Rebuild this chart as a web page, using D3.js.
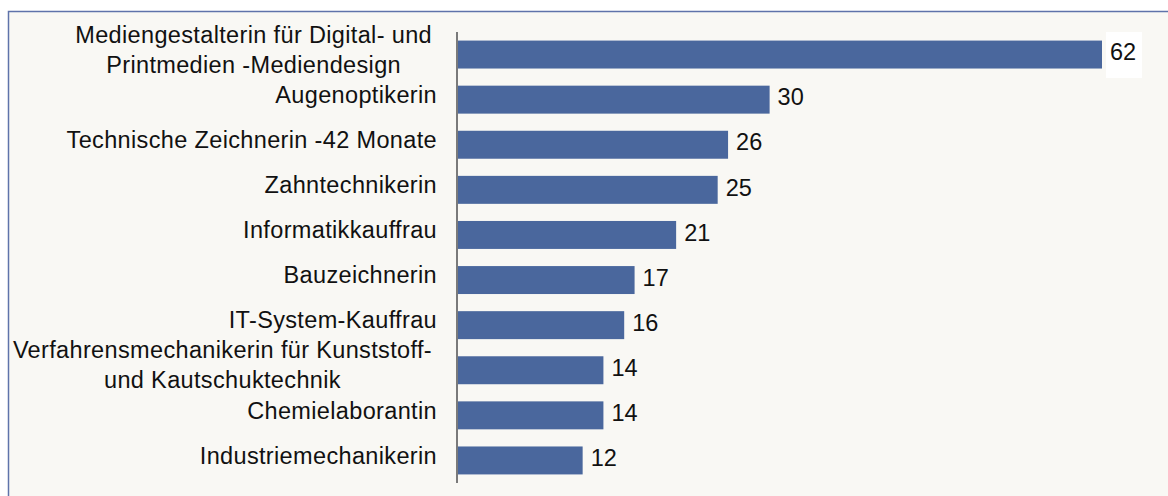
<!DOCTYPE html>
<html>
<head>
<meta charset="utf-8">
<script src="https://cdn.jsdelivr.net/npm/d3@7"></script>
<style>
  html, body { margin: 0; padding: 0; background: #ffffff; }
  svg { display: block; }
</style>
</head>
<body>
<div id="chart"></div>
<script>
// categories, each as list of label lines
const categories = [
  ["Mediengestalterin für Digital- und", "Printmedien -Mediendesign"],
  ["Augenoptikerin"],
  ["Technische Zeichnerin -42 Monate"],
  ["Zahntechnikerin"],
  ["Informatikkauffrau"],
  ["Bauzeichnerin"],
  ["IT-System-Kauffrau"],
  ["Verfahrensmechanikerin für Kunststoff-", "und Kautschuktechnik"],
  ["Chemielaborantin"],
  ["Industriemechanikerin"]
];
const values = [62, 30, 26, 25, 21, 17, 16, 14, 14, 12];

const width = 1168, height = 496;
const plot = { left: 458, right: 1102, top: 32, bottom: 483 };
const font = "'Liberation Sans', Arial, sans-serif";

const data = categories.map((c, i) => ({ key: i, lines: c, value: values[i] }));

const svg = d3.select("#chart").append("svg")
  .attr("width", width)
  .attr("height", height);

// chart area with border
svg.append("rect")
  .attr("x", 8.5).attr("y", 11.5)
  .attr("width", width + 10).attr("height", height)
  .attr("fill", "#f9f8f4")
  .attr("stroke", "#5f73aa")
  .attr("stroke-width", 1.5);

const x = d3.scaleLinear()
  .domain([0, d3.max(values)])
  .range([plot.left, plot.right]);

const y = d3.scaleBand()
  .domain(data.map(d => d.key))
  .range([plot.top, plot.bottom])
  .paddingInner(0.38)
  .paddingOuter(0.19);

svg.append("g")
  .selectAll("rect")
  .data(data)
  .join("rect")
  .attr("x", x(0))
  .attr("y", d => y(d.key))
  .attr("width", d => x(d.value) - x(0))
  .attr("height", y.bandwidth())
  .attr("fill", "#4a679d");

// vertical axis line
svg.append("line")
  .attr("x1", x(0) - 1).attr("x2", x(0) - 1)
  .attr("y1", plot.top).attr("y2", plot.bottom)
  .attr("stroke", "#7a7a7a")
  .attr("stroke-width", 2);

// category labels
const lineH = 30;
const labels = svg.append("g")
  .attr("font-family", font)
  .attr("font-size", 23.5)
  .attr("letter-spacing", 0.35)
  .attr("fill", "#111");

data.forEach(d => {
  const cy = y(d.key) + y.bandwidth() / 2 - 5;
  if (d.lines.length === 1) {
    labels.append("text")
      .attr("x", 437)
      .attr("y", cy)
      .attr("dy", "0.35em")
      .attr("text-anchor", "end")
      .text(d.lines[0]);
  } else {
    const texts = d.lines.map((t, j) => labels.append("text")
      .attr("y", cy + (j - (d.lines.length - 1) / 2) * lineH)
      .attr("dy", "0.35em")
      .attr("text-anchor", "middle")
      .text(t));
    const maxW = d3.max(texts, t => t.node().getComputedTextLength());
    texts.forEach(t => t.attr("x", 432 - maxW / 2));
  }
});

// value labels
const vals = svg.append("g")
  .attr("font-family", font)
  .attr("font-size", 23.5)
  .attr("fill", "#111");

data.forEach((d, i) => {
  const tx = x(d.value) + 8;
  const cy = y(d.key) + y.bandwidth() / 2 - 2.5;
  if (i === 0) {
    vals.append("rect")
      .attr("x", tx - 4).attr("y", cy - 20)
      .attr("width", 36).attr("height", 46)
      .attr("fill", "#ffffff");
  }
  vals.append("text")
    .attr("x", tx)
    .attr("y", cy)
    .attr("dy", "0.35em")
    .text(d.value);
});
</script>
</body>
</html>
